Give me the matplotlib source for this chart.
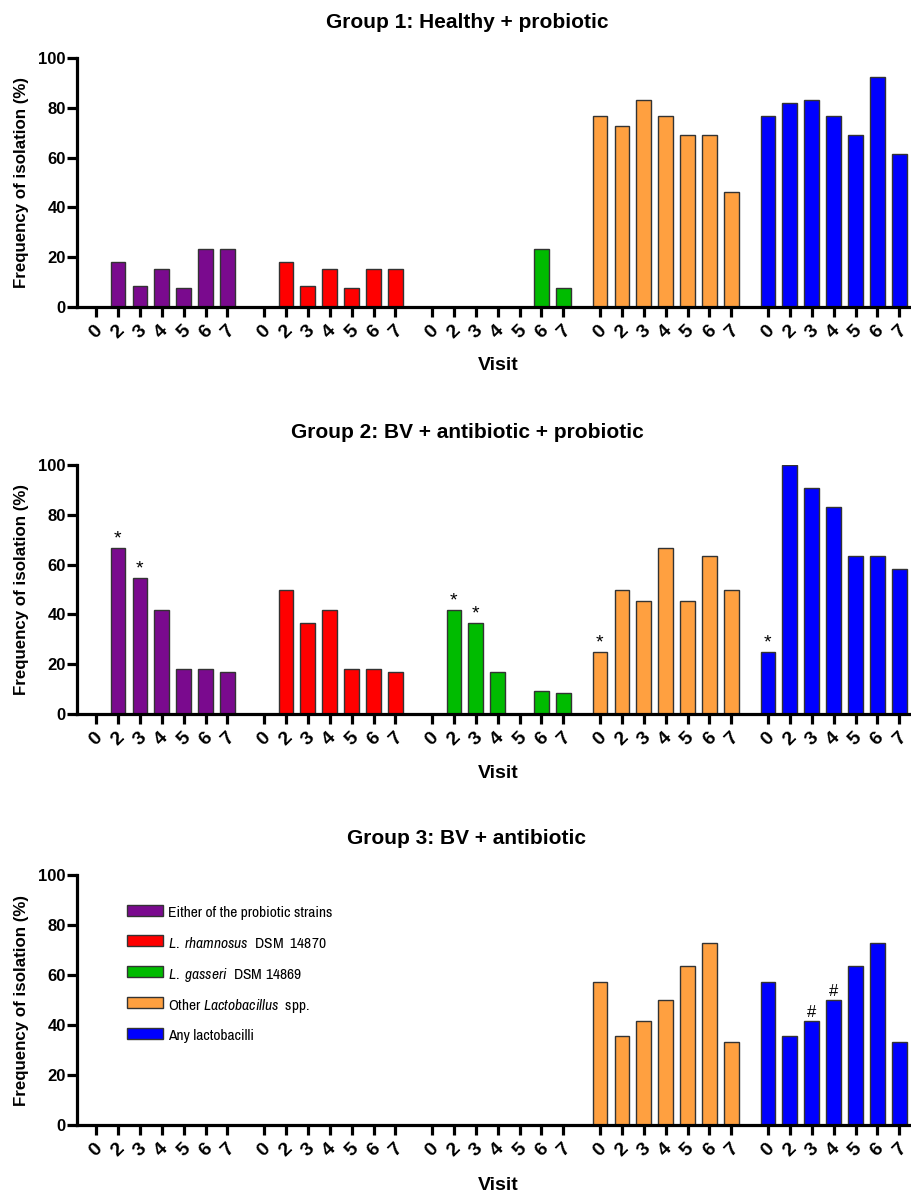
import matplotlib
matplotlib.use("Agg")
import matplotlib.pyplot as plt
from matplotlib import font_manager
from matplotlib.patches import Rectangle

names = {f.name for f in font_manager.fontManager.ttflist}
narrow = 'Liberation Sans'
for cand in ['Archivo Narrow', 'Liberation Sans Narrow', 'Barlow Condensed']:
    if cand in names:
        narrow = cand
        break

plt.rcParams['font.family'] = ['Liberation Sans', 'DejaVu Sans']
plt.rcParams['mathtext.fontset'] = 'custom'
plt.rcParams['mathtext.it'] = narrow + ':italic'
plt.rcParams['mathtext.rm'] = narrow

visits = ['0', '2', '3', '4', '5', '6', '7']
series_names = ['Either of the probiotic strains',
                r'$\it{L.\ rhamnosus}$  DSM  14870',
                r'$\it{L.\ gasseri}$  DSM 14869',
                r'Other $\it{Lactobacillus}$  spp.',
                'Any lactobacilli']
colors = ['#7A0A8E', '#FF0000', '#00BB00', '#FFA040', '#0000FF']
titles = ['Group 1: Healthy + probiotic',
          'Group 2: BV + antibiotic + probiotic',
          'Group 3: BV + antibiotic']

g1_either = [0, 18.2, 8.3, 15.4, 7.7, 23.1, 23.1]
g1_rham = [0, 18.2, 8.3, 15.4, 7.7, 15.4, 15.4]
g1_gass = [0, 0, 0, 0, 0, 23.1, 7.7]
g1_other = [76.9, 72.7, 83.3, 76.9, 69.2, 69.2, 46.2]
g1_any = [76.9, 81.8, 83.3, 76.9, 69.2, 92.3, 61.5]

g2_either = [0, 66.7, 54.5, 41.7, 18.2, 18.2, 16.7]
g2_rham = [0, 50.0, 36.4, 41.7, 18.2, 18.2, 16.7]
g2_gass = [0, 41.7, 36.4, 16.7, 0, 9.1, 8.3]
g2_other = [25.0, 50.0, 45.5, 66.7, 45.5, 63.6, 50.0]
g2_any = [25.0, 100.0, 90.9, 83.3, 63.6, 63.6, 58.3]

g3_either = [0, 0, 0, 0, 0, 0, 0]
g3_rham = [0, 0, 0, 0, 0, 0, 0]
g3_gass = [0, 0, 0, 0, 0, 0, 0]
g3_other = [57.1, 35.7, 41.7, 50.0, 63.6, 72.7, 33.3]
g3_any = [57.1, 35.7, 41.7, 50.0, 63.6, 72.7, 33.3]

groups = [[g1_either, g1_rham, g1_gass, g1_other, g1_any],
          [g2_either, g2_rham, g2_gass, g2_other, g2_any],
          [g3_either, g3_rham, g3_gass, g3_other, g3_any]]

# annotations: (panel, series, visit index, symbol)
g2_marks = [(1, 0, 1, '*'), (1, 0, 2, '*'), (1, 2, 1, '*'), (1, 2, 2, '*'),
            (1, 3, 0, '*'), (1, 4, 0, '*')]
g3_marks = [(2, 4, 2, '#'), (2, 4, 3, '#')]

W, H = 912, 1195
fig = plt.figure(figsize=(W / 100, H / 100), dpi=100)

panel_px = [(58, 307), (465, 714), (875, 1125)]
title_y = [22, 432, 838]
visit_y = [366, 773, 1185]
left_px = 77

group_step = 7.67
xpos = [[g * group_step + i for i in range(7)] for g in range(5)]
all_x = [x for grp in xpos for x in grp]
all_lbl = visits * 5

axes = []
for p in range(3):
    top, bot = panel_px[p]
    ax = fig.add_axes([left_px / W, 1 - bot / H, 1 - left_px / W, (bot - top) / H])
    axes.append(ax)
    for s in range(5):
        ax.bar(xpos[s], groups[p][s], width=0.67, color=colors[s],
               edgecolor='#333333', linewidth=1.0, zorder=2,
               label=series_names[s])
    ax.set_ylim(0, 100)
    ax.set_xlim(-0.87, 37.26)
    ax.set_yticks([0, 20, 40, 60, 80, 100])
    ax.set_xticks(all_x)
    ax.set_xticklabels(all_lbl, rotation=45, ha='center', fontsize=14,
                       fontweight='bold')
    for lab in ax.get_yticklabels():
        lab.set_fontweight('bold')
        lab.set_fontsize(12)
    ax.tick_params(axis='both', direction='out', width=2.3, length=7, pad=1)
    ax.tick_params(axis='x', pad=4)
    for sp in ['top', 'right']:
        ax.spines[sp].set_visible(False)
    for sp in ['left', 'bottom']:
        ax.spines[sp].set_linewidth(2.3)
    ax.spines['bottom'].set_zorder(3)
    ax.patch.set_alpha(0)
    ax.set_ylabel('Frequency of isolation (%)', fontsize=12.2, fontweight='bold',
                  labelpad=7)
    fig.text(467 / W, 1 - title_y[p] / H, titles[p], ha='center', va='center',
             fontsize=15, fontweight='bold')
    fig.text(498 / W, 1 - visit_y[p] / H, 'Visit', ha='center', va='center',
             fontsize=14, fontweight='bold')

for (p, s, i, sym) in g2_marks + g3_marks:
    ax = axes[p]
    ax.text(xpos[s][i], groups[p][s][i] + 0.3, sym, ha='center', va='bottom',
            fontsize=14 if sym == '*' else 12, zorder=4)

# legend drawn as key boxes and texts in the third panel
leg_x0, leg_x1, leg_tx = 127, 163, 168
leg_y0, leg_dy, box_h = 910, 30.8, 11
for s in range(5):
    yc = leg_y0 + s * leg_dy
    fig.add_artist(Rectangle((leg_x0 / W, 1 - (yc + box_h / 2) / H),
                             (leg_x1 - leg_x0) / W, box_h / H,
                             transform=fig.transFigure, facecolor=colors[s],
                             edgecolor='#333333', linewidth=1.0))
    fig.text(leg_tx / W, 1 - (yc + 1) / H, series_names[s], ha='left',
             va='center_baseline', fontsize=11.2, family=narrow)

fig.savefig('out.png', dpi=100)
